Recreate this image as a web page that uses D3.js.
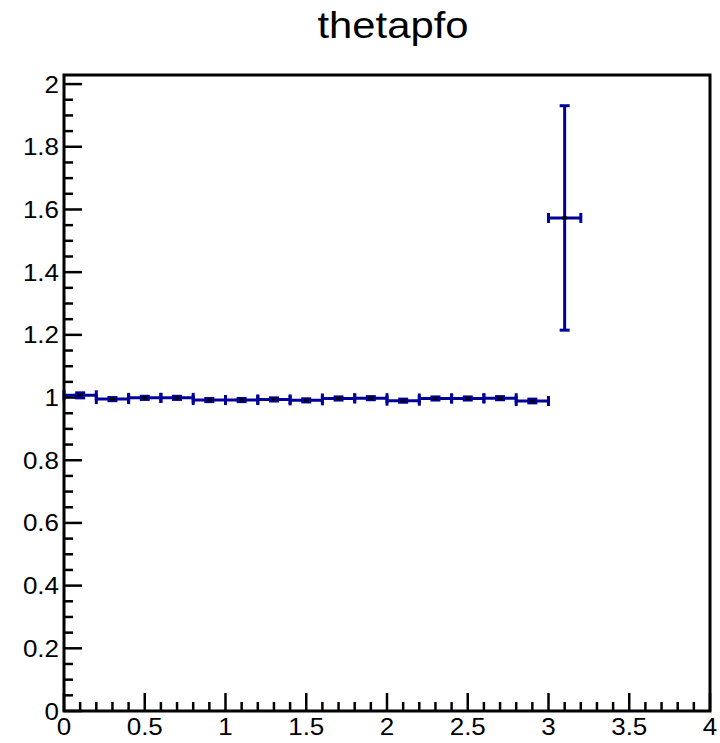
<!DOCTYPE html>
<html>
<head>
<meta charset="UTF-8" />
<title>thetapfo</title>
<style>
    body, html { margin: 0; padding: 0; background: #fff; overflow: hidden; }
    svg { display: block; font-family: "Liberation Sans", Arial, Helvetica, sans-serif; }
</style>
</head>
<body>
<svg width="720" height="743"></svg>
<script src="https://d3js.org/d3.v7.min.js"></script>
<script>
    // bin edges (low, high) and ratio values with errors
    const binLow  = [0, 0.2, 0.4, 0.6, 0.8, 1.0, 1.2, 1.4, 1.6, 1.8, 2.0, 2.2, 2.4, 2.6, 2.8, 3.0];
    const binHigh = [0.2, 0.4, 0.6, 0.8, 1.0, 1.2, 1.4, 1.6, 1.8, 2.0, 2.2, 2.4, 2.6, 2.8, 3.0, 3.2];
    const values  = [1.007, 0.995, 0.999, 0.999, 0.992, 0.992, 0.994, 0.991, 0.997, 0.998, 0.990, 0.997, 0.997, 0.998, 0.989, 1.573];
    const errors  = [0.008, 0.005, 0.005, 0.005, 0.005, 0.005, 0.005, 0.005, 0.005, 0.005, 0.005, 0.005, 0.005, 0.005, 0.006, 0.358];
    const xTicks = [0, 0.5, 1, 1.5, 2, 2.5, 3, 3.5, 4];
    const yTicks = [0, 0.2, 0.4, 0.6, 0.8, 1, 1.2, 1.4, 1.6, 1.8, 2];

    const svg = d3.select("svg");
    const padL = 64, padR = 710, padT = 75, padB = 711;
    const stretch = 1.13; // text in the original is a bit wider than tall

    const x = d3.scaleLinear().domain([0, 4]).range([padL, padR]);
    const y = d3.scaleLinear().domain([0, 2.029]).range([padB, padT]);

    const blue = "#000099";

    // title
    svg.append("text")
        .attr("transform", `translate(393,38) scale(${stretch},1)`)
        .attr("text-anchor", "middle")
        .style("font-size", "37px")
        .text("thetapfo");

    // minor / major ticks
    const g = svg.append("g").attr("stroke", "#000").attr("stroke-width", 2.5);
    d3.range(0, 4.0001, 0.1).forEach(v => {
        const major = Math.abs(v * 2 - Math.round(v * 2)) < 1e-6;
        g.append("line")
            .attr("x1", x(v)).attr("x2", x(v))
            .attr("y1", padB).attr("y2", padB - (major ? 18 : 9));
    });
    d3.range(0, 2.0001, 0.05).forEach(v => {
        const major = Math.abs(v * 5 - Math.round(v * 5)) < 1e-6;
        g.append("line")
            .attr("x1", padL).attr("x2", padL + (major ? 18 : 9))
            .attr("y1", y(v)).attr("y2", y(v));
    });

    // tick labels
    svg.append("g").selectAll("text").data(xTicks).join("text")
        .attr("transform", d => `translate(${x(d)},${padB + 24}) scale(${stretch},1)`)
        .attr("text-anchor", "middle")
        .style("font-size", "23px")
        .text(d => d3.format("~g")(d));
    svg.append("g").selectAll("text").data(yTicks).join("text")
        .attr("transform", d => `translate(${padL - 5},${y(d) + 8.5}) scale(${stretch},1)`)
        .attr("text-anchor", "end")
        .style("font-size", "23px")
        .text(d => d3.format("~g")(d));

    // data points
    const pts = binLow.map((lo, i) => ({ lo, hi: binHigh[i], v: values[i], e: errors[i] }));
    const pg = svg.append("g").attr("stroke", blue).attr("stroke-width", 3).attr("fill", "none");
    pts.forEach(p => {
        const cx = x((p.lo + p.hi) / 2);
        pg.append("line").attr("x1", x(p.lo)).attr("x2", x(p.hi)).attr("y1", y(p.v)).attr("y2", y(p.v));
        pg.append("line").attr("x1", x(p.lo)).attr("x2", x(p.lo)).attr("y1", y(p.v) - 5).attr("y2", y(p.v) + 5);
        pg.append("line").attr("x1", x(p.hi)).attr("x2", x(p.hi)).attr("y1", y(p.v) - 5).attr("y2", y(p.v) + 5);
        pg.append("line").attr("x1", cx).attr("x2", cx).attr("y1", y(p.v + p.e)).attr("y2", y(p.v - p.e));
        pg.append("line").attr("x1", cx - 5).attr("x2", cx + 5).attr("y1", y(p.v + p.e)).attr("y2", y(p.v + p.e));
        pg.append("line").attr("x1", cx - 5).attr("x2", cx + 5).attr("y1", y(p.v - p.e)).attr("y2", y(p.v - p.e));
    });
    svg.append("g").selectAll("rect").data(pts).join("rect")
        .attr("x", d => x((d.lo + d.hi) / 2) - 2.5)
        .attr("y", d => y(d.v) - 1.5)
        .attr("width", 5).attr("height", 3)
        .attr("fill", "#000");

    // frame
    svg.append("rect")
        .attr("x", padL).attr("y", padT)
        .attr("width", padR - padL).attr("height", padB - padT)
        .attr("fill", "none").attr("stroke", "#000").attr("stroke-width", 3);
</script>
</body>
</html>
